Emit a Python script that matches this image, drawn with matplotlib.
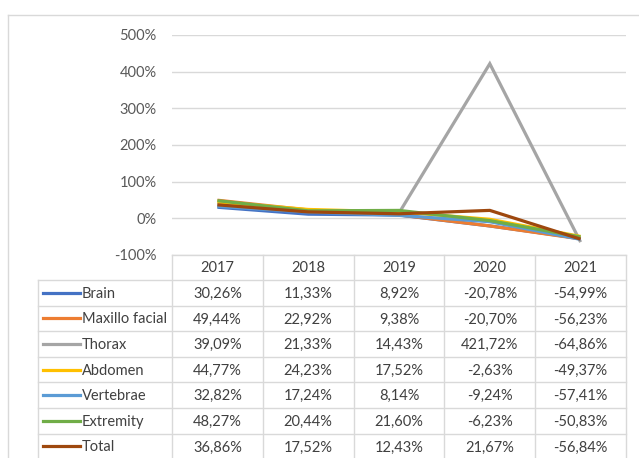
import matplotlib
matplotlib.use('Agg')
import matplotlib.pyplot as plt
from matplotlib.lines import Line2D

# Data
years = ['2017', '2018', '2019', '2020', '2021']
series_names = ['Brain', 'Maxillo facial', 'Thorax', 'Abdomen',
                'Vertebrae', 'Extremity', 'Total']
brain = [30.26, 11.33, 8.92, -20.78, -54.99]
maxillo = [49.44, 22.92, 9.38, -20.70, -56.23]
thorax = [39.09, 21.33, 14.43, 421.72, -64.86]
abdomen = [44.77, 24.23, 17.52, -2.63, -49.37]
vertebrae = [32.82, 17.24, 8.14, -9.24, -57.41]
extremity = [48.27, 20.44, 21.60, -6.23, -50.83]
total = [36.86, 17.52, 12.43, 21.67, -56.84]
y_ticks = [-100, 0, 100, 200, 300, 400, 500]

values = [brain, maxillo, thorax, abdomen, vertebrae, extremity, total]
colors = ['#4472C4', '#ED7D31', '#A5A5A5', '#FFC000',
          '#5B9BD5', '#70AD47', '#9E480E']

plt.rcParams['font.family'] = ['Lato', 'DejaVu Sans']

W, H = 639, 458
fig = plt.figure(figsize=(W / 100, H / 100), dpi=100)

grid_col = '#D9D9D9'
text_col = '#595959'
cell_text = '#404040'
fs = 10.5

# pixel layout
left, right = 172, 626
top_y, bot_y = 35, 255

# background axes in pixel coords for border + table
bg = fig.add_axes([0, 0, 1, 1])
bg.set_xlim(0, W)
bg.set_ylim(H, 0)
bg.axis('off')
bg.add_line(Line2D([8, 8], [15, H], color=grid_col, lw=1))
bg.add_line(Line2D([8, W], [15, 15], color=grid_col, lw=1))

# line chart
ax = fig.add_axes([left / W, (H - bot_y) / H, (right - left) / W, (bot_y - top_y) / H])
x = list(range(len(years)))
for vals, c in zip(values, colors):
    ax.plot(x, vals, color=c, lw=2.3, solid_capstyle='butt', solid_joinstyle='miter')
ax.set_xlim(-0.5, len(years) - 0.5)
ax.set_ylim(y_ticks[0], y_ticks[-1])
ax.set_yticks(y_ticks)
ax.set_yticklabels([f'{t}%' for t in y_ticks], color=text_col, fontsize=fs)
ax.set_xticks([])
ax.tick_params(axis='y', length=0, pad=11)
ax.grid(axis='y', color=grid_col, lw=1)
ax.set_axisbelow(True)
for s in ax.spines.values():
    s.set_visible(False)
ax.patch.set_alpha(0)

# data table
lab_left = 38
col_w = (right - left) / len(years)
row_top = 280
row_h = 25.6
header_top = 255
n_rows = len(series_names)
table_bot = row_top + n_rows * row_h

# horizontal lines
bg.add_line(Line2D([left, right], [header_top, header_top], color=grid_col, lw=1))
for i in range(n_rows + 1):
    yy = row_top + i * row_h
    bg.add_line(Line2D([lab_left, right], [yy, yy], color=grid_col, lw=1))
# vertical lines
bg.add_line(Line2D([lab_left, lab_left], [row_top, table_bot], color=grid_col, lw=1))
for j in range(len(years) + 1):
    xx = left + j * col_w
    bg.add_line(Line2D([xx, xx], [header_top, table_bot], color=grid_col, lw=1))

# header
for j, yr in enumerate(years):
    bg.text(left + (j + 0.5) * col_w, (header_top + row_top) / 2 + 1, yr,
            ha='center', va='center', fontsize=fs, color=cell_text)

# rows
for i, (name, vals, c) in enumerate(zip(series_names, values, colors)):
    yc = row_top + (i + 0.5) * row_h + 1
    bg.add_line(Line2D([43, 80], [yc - 1, yc - 1], color=c, lw=2.3))
    bg.text(82, yc, name, ha='left', va='center', fontsize=fs, color=cell_text)
    for j, v in enumerate(vals):
        s = f'{v:.2f}%'.replace('.', ',')
        bg.text(left + (j + 0.5) * col_w, yc, s, ha='center', va='center',
                fontsize=fs, color=cell_text)

fig.savefig('out.png', dpi=100)
